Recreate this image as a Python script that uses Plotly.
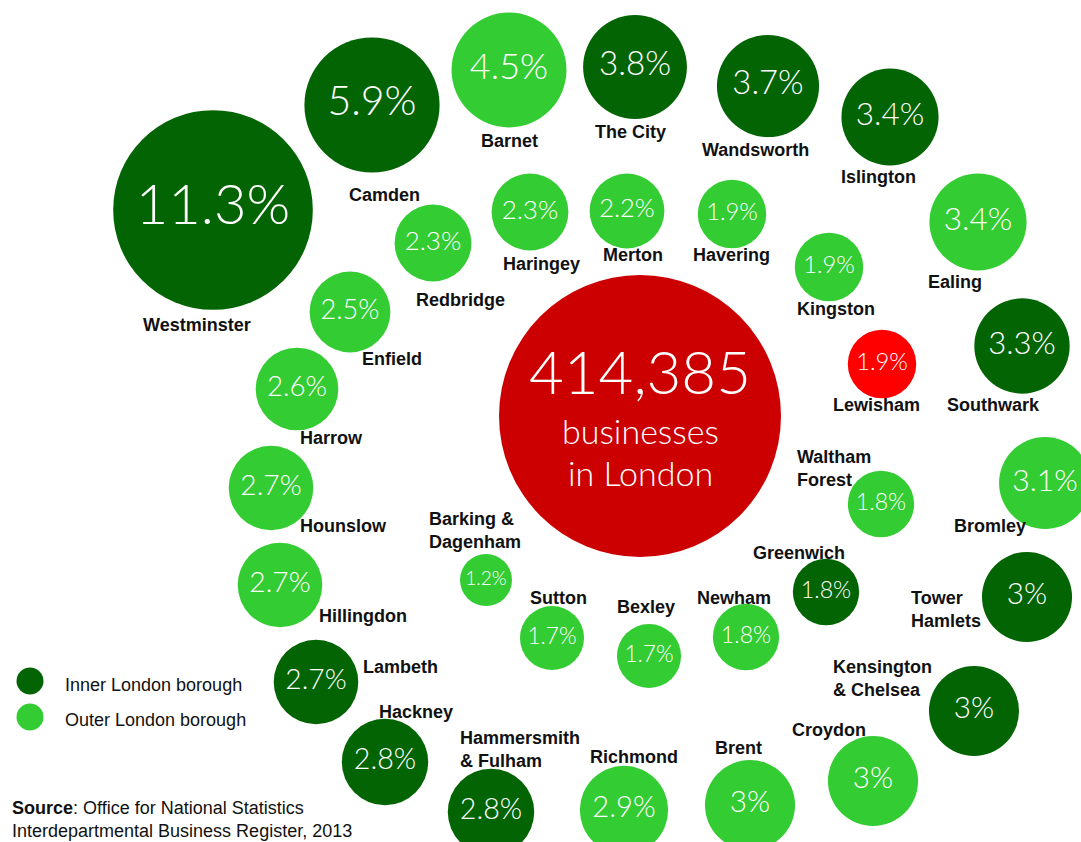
import plotly.graph_objects as go

# ---- data -------------------------------------------------------------
total_businesses = 414385

boroughs = [
    "Westminster", "Camden", "Barnet", "The City", "Wandsworth", "Islington",
    "Ealing", "Kingston", "Southwark", "Lewisham", "Bromley", "Waltham Forest",
    "Greenwich", "Tower Hamlets", "Kensington & Chelsea", "Croydon", "Brent",
    "Richmond", "Hammersmith & Fulham", "Hackney", "Lambeth", "Hillingdon",
    "Hounslow", "Harrow", "Enfield", "Redbridge", "Barking & Dagenham",
    "Haringey", "Merton", "Havering", "Sutton", "Bexley", "Newham",
]

# share of London's businesses (%)
shares = [
    11.3, 5.9, 4.5, 3.8, 3.7, 3.4,
    3.4, 1.9, 3.3, 1.9, 3.1, 1.8,
    1.8, 3, 3, 3, 3,
    2.9, 2.8, 2.8, 2.7, 2.7,
    2.7, 2.6, 2.5, 2.3, 1.2,
    2.3, 2.2, 1.9, 1.7, 1.7, 1.8,
]

inner_boroughs = {
    "Westminster", "Camden", "The City", "Wandsworth", "Islington", "Southwark",
    "Lewisham", "Greenwich", "Tower Hamlets", "Kensington & Chelsea",
    "Hammersmith & Fulham", "Hackney", "Lambeth",
}
highlighted = {"Lewisham"}

# ---- layout of the bubble cluster (screen pixels) ----------------------
W, H = 1081, 842
bubble_xy = {
    "Westminster": (213, 210), "Camden": (372, 105), "Barnet": (509, 70),
    "The City": (635, 67), "Wandsworth": (768, 86), "Islington": (890, 117),
    "Ealing": (978, 222), "Kingston": (829, 267), "Southwark": (1022, 346),
    "Lewisham": (882, 364), "Bromley": (1045, 483), "Waltham Forest": (881, 504),
    "Greenwich": (826, 592), "Tower Hamlets": (1027, 597),
    "Kensington & Chelsea": (974, 711), "Croydon": (873, 781),
    "Brent": (750, 805), "Richmond": (624, 810),
    "Hammersmith & Fulham": (491, 812), "Hackney": (385, 762),
    "Lambeth": (316, 682), "Hillingdon": (280, 585), "Hounslow": (271, 488),
    "Harrow": (297, 389), "Enfield": (350, 312), "Redbridge": (433, 243),
    "Barking & Dagenham": (486, 580), "Haringey": (530, 212),
    "Merton": (627, 211), "Havering": (732, 214), "Sutton": (552, 638),
    "Bexley": (649, 656), "Newham": (746, 637),
}
# name label placement: (x, y, anchor, text)
name_labels = {
    "Westminster": (197, 325, "center", "Westminster"),
    "Camden": (384, 195, "center", "Camden"),
    "Barnet": (509, 141, "center", "Barnet"),
    "The City": (630, 132, "center", "The City"),
    "Wandsworth": (755, 150, "center", "Wandsworth"),
    "Islington": (878, 177, "center", "Islington"),
    "Ealing": (955, 282, "center", "Ealing"),
    "Kingston": (836, 309, "center", "Kingston"),
    "Southwark": (993, 405, "center", "Southwark"),
    "Lewisham": (876, 405, "center", "Lewisham"),
    "Bromley": (990, 526, "center", "Bromley"),
    "Waltham Forest": (795, 468, "left", "Waltham<br>Forest"),
    "Greenwich": (799, 553, "center", "Greenwich"),
    "Tower Hamlets": (909, 609, "left", "Tower<br>Hamlets"),
    "Kensington & Chelsea": (831, 678, "left", "Kensington<br>& Chelsea"),
    "Croydon": (829, 730, "center", "Croydon"),
    "Brent": (738, 748, "center", "Brent"),
    "Richmond": (634, 757, "center", "Richmond"),
    "Hammersmith & Fulham": (458, 749, "left", "Hammersmith<br>& Fulham"),
    "Hackney": (416, 712, "center", "Hackney"),
    "Lambeth": (400, 667, "center", "Lambeth"),
    "Hillingdon": (363, 616, "center", "Hillingdon"),
    "Hounslow": (343, 526, "center", "Hounslow"),
    "Harrow": (331, 438, "center", "Harrow"),
    "Enfield": (392, 359, "center", "Enfield"),
    "Redbridge": (460, 300, "center", "Redbridge"),
    "Barking & Dagenham": (427, 530, "left", "Barking &<br>Dagenham"),
    "Haringey": (541, 264, "center", "Haringey"),
    "Merton": (633, 255, "center", "Merton"),
    "Havering": (731, 255, "center", "Havering"),
    "Sutton": (558, 598, "center", "Sutton"),
    "Bexley": (646, 607, "center", "Bexley"),
    "Newham": (734, 598, "center", "Newham"),
}

DARK_GREEN = "#036403"
LIGHT_GREEN = "#33CC33"
HIGHLIGHT_RED = "#FF0000"
TOTAL_RED = "#CC0000"
VALUE_FONT = "Lato, Open Sans, DejaVu Sans, sans-serif"
LABEL_FONT = "Liberation Sans, Arial, sans-serif"


def bubble_diameter(share):
    # compressed scale so the small boroughs stay readable
    return 46.6 * share ** 0.6


def colour_for(name):
    if name in highlighted:
        return HIGHLIGHT_RED
    return DARK_GREEN if name in inner_boroughs else LIGHT_GREEN


xs = [bubble_xy[b][0] for b in boroughs]
ys = [bubble_xy[b][1] for b in boroughs]
diam = [bubble_diameter(s) for s in shares]
value_text = [f"{s:g}%" for s in shares]
value_size = [0.81 * d ** 0.8 for d in diam]

fig = go.Figure()

# central total bubble
fig.add_trace(go.Scatter(
    x=[640], y=[416], mode="markers",
    marker=dict(size=282, color=TOTAL_RED, line=dict(width=0)),
    hoverinfo="skip", showlegend=False,
))

# borough bubbles
fig.add_trace(go.Scatter(
    x=xs, y=ys, mode="markers+text",
    marker=dict(size=diam, color=[colour_for(b) for b in boroughs],
                line=dict(width=0), opacity=1),
    text=value_text, textposition="middle center",
    textfont=dict(family=VALUE_FONT, size=value_size, color="white",
                  weight=300),
    customdata=boroughs,
    hovertemplate="%{customdata}: %{text}<extra></extra>",
    showlegend=False,
))

# legend keys
fig.add_trace(go.Scatter(
    x=[30, 30], y=[681, 717], mode="markers",
    marker=dict(size=27, color=[DARK_GREEN, LIGHT_GREEN], line=dict(width=0)),
    hoverinfo="skip", showlegend=False,
))

annotations = []
for b in boroughs:
    lx, ly, anchor, txt = name_labels[b]
    annotations.append(dict(
        x=lx, y=ly, text=f"<b>{txt}</b>", showarrow=False,
        xanchor=anchor, yanchor="middle", align=anchor,
        font=dict(family=LABEL_FONT, size=18, color="#111111"),
    ))

# total in the central bubble: number stacked over a two-line caption,
# each line butted against the one above it
centre_font = dict(family=VALUE_FONT, color="white", weight=300)
annotations += [
    dict(x=640, y=408, text=f"{total_businesses:,}",
         showarrow=False, xanchor="center", yanchor="bottom", borderpad=0,
         font=dict(size=60, **centre_font)),
    dict(x=640, y=409, text="businesses",
         showarrow=False, xanchor="center", yanchor="top", borderpad=0,
         font=dict(size=34, **centre_font)),
    dict(x=640, y=451, text="in London",
         showarrow=False, xanchor="center", yanchor="top", borderpad=0,
         font=dict(size=34, **centre_font)),
]

# legend text
note_font = dict(family=LABEL_FONT, size=18, color="#111111")
annotations += [
    dict(x=63, y=685, text="Inner London borough", showarrow=False,
         xanchor="left", font=note_font),
    dict(x=63, y=720, text="Outer London borough", showarrow=False,
         xanchor="left", font=note_font),
]

# source note
annotations += [
    dict(x=10, y=808, text="<b>Source</b>: Office for National Statistics",
         showarrow=False, xanchor="left", font=note_font),
    dict(x=10, y=831, text="Interdepartmental Business Register, 2013",
         showarrow=False, xanchor="left", font=note_font),
]

fig.update_layout(
    width=W, height=H,
    margin=dict(l=0, r=0, t=0, b=0),
    paper_bgcolor="white", plot_bgcolor="white",
    xaxis=dict(range=[0, W], visible=False, fixedrange=True),
    yaxis=dict(range=[H, 0], visible=False, fixedrange=True),
    annotations=annotations,
    showlegend=False,
)

fig.write_html("out.html")
